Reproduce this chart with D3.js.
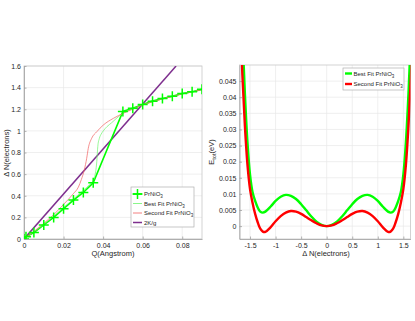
<!DOCTYPE html>
<html>
<head>
<meta charset="utf-8">
<title>PrNiO3 fits</title>
<script src="https://d3js.org/d3.v7.min.js"></script>
<style>
body { margin: 0; background: #fff; }
svg { font-family: "Liberation Sans", Arial, sans-serif; }
.grid line { stroke: #e8e8e8; stroke-width: 0.7; }
.axis path, .axis line { stroke: #a0a0a0; stroke-width: 0.8; }
.axis text { fill: #262626; font-size: 7px; }
.lbl { fill: #262626; font-size: 7.5px; }
.leg { fill: #262626; font-size: 6px; }
</style>
</head>
<body>
<svg width="415" height="321"></svg>
<script>
// ---- left panel: charge vs Q ----
var qData = [0, 0.001, 0.005, 0.01, 0.015, 0.02, 0.025, 0.03, 0.035, 0.05, 0.055, 0.06, 0.065, 0.07, 0.075, 0.08, 0.085, 0.09];
var nData = [0, 0.02, 0.06, 0.13, 0.20, 0.28, 0.36, 0.43, 0.52, 1.18, 1.21, 1.245, 1.275, 1.30, 1.32, 1.345, 1.362, 1.384];

var qBest = [0, 0.005, 0.01, 0.015, 0.02, 0.025, 0.03, 0.033, 0.035, 0.036, 0.0368, 0.0373, 0.0381, 0.039, 0.0401, 0.042, 0.0443, 0.047, 0.0502, 0.055, 0.06, 0.065, 0.07, 0.075, 0.08, 0.085, 0.09];
var nBest = [0, 0.065, 0.135, 0.21, 0.29, 0.37, 0.45, 0.5, 0.54, 0.6, 0.715, 0.854, 0.931, 0.97, 1.0, 1.04, 1.075, 1.12, 1.165, 1.205, 1.24, 1.27, 1.295, 1.318, 1.342, 1.36, 1.382];

var qSecond = [0, 0.005, 0.01, 0.015, 0.02, 0.025, 0.0275, 0.029, 0.0305, 0.0317, 0.0325, 0.0342, 0.0368, 0.0401, 0.0452, 0.0502, 0.055, 0.06, 0.065, 0.07, 0.075, 0.08, 0.085, 0.09];
var nSecond = [0, 0.07, 0.145, 0.225, 0.32, 0.42, 0.48, 0.55, 0.64, 0.746, 0.839, 0.931, 0.992, 1.054, 1.116, 1.163, 1.2, 1.24, 1.27, 1.295, 1.318, 1.342, 1.36, 1.382];

var qLine = [0, 0.0769];
var nLine = [0, 1.6];

var qTicks = [0, 0.02, 0.04, 0.06, 0.08];
var nTicks = [0, 0.2, 0.4, 0.6, 0.8, 1, 1.2, 1.4, 1.6];

// ---- right panel: total energy vs charge ----
var dN = [-1.7, -1.65, -1.6, -1.55, -1.5, -1.45, -1.4, -1.35, -1.3, -1.25, -1.2, -1.1, -1.0, -0.9, -0.8, -0.7, -0.6, -0.5, -0.4, -0.3, -0.2, -0.1, 0,
          0.1, 0.2, 0.3, 0.4, 0.5, 0.6, 0.7, 0.8, 0.9, 1.0, 1.1, 1.2, 1.25, 1.3, 1.35, 1.4, 1.45, 1.5, 1.55, 1.6, 1.65, 1.7];
var eBest = [0.085, 0.06, 0.041, 0.026, 0.016, 0.0105, 0.0078, 0.0058, 0.0045, 0.0042, 0.0045, 0.006, 0.0078, 0.0091, 0.0097, 0.0094, 0.0084, 0.0068, 0.0049, 0.003, 0.0014, 0.0004, 0,
             0.0004, 0.0014, 0.003, 0.0049, 0.0068, 0.0084, 0.0094, 0.0097, 0.0091, 0.0078, 0.006, 0.0045, 0.0042, 0.0045, 0.0058, 0.0078, 0.0105, 0.016, 0.026, 0.041, 0.06, 0.085];
var eSecond = [0.07, 0.047, 0.031, 0.019, 0.0115, 0.0072, 0.0038, 0.0012, -0.0008, -0.0017, -0.0018, -0.0004, 0.0015, 0.0031, 0.0042, 0.0047, 0.0045, 0.0038, 0.0028, 0.0018, 0.0009, 0.0002, 0,
               0.0002, 0.0009, 0.0018, 0.0028, 0.0038, 0.0045, 0.0047, 0.0042, 0.0031, 0.0015, -0.0004, -0.0018, -0.0017, -0.0008, 0.0012, 0.0038, 0.0072, 0.0115, 0.019, 0.031, 0.047, 0.07];

var dnTicks = [-1.5, -1, -0.5, 0, 0.5, 1, 1.5];
var eTicks = [0, 0.005, 0.01, 0.015, 0.02, 0.025, 0.03, 0.035, 0.04, 0.045];

var green = "#00ff00", red = "#ff0000", purple = "#7e2f8e";

var svg = d3.select("svg");

function zip(a, b) { return a.map(function(d, i) { return [d, b[i]]; }); }

function frame(g, x, y, xt, yt, id) {
  var x0 = x.range()[0], x1 = x.range()[1], y0 = y.range()[0], y1 = y.range()[1];
  var grid = g.append("g").attr("class", "grid");
  grid.selectAll("line.v").data(xt).enter().append("line")
    .attr("x1", x).attr("x2", x).attr("y1", y0).attr("y2", y1);
  grid.selectAll("line.h").data(yt).enter().append("line")
    .attr("y1", y).attr("y2", y).attr("x1", x0).attr("x2", x1);
  g.append("rect").attr("x", x0).attr("y", y1).attr("width", x1 - x0).attr("height", y0 - y1)
    .attr("fill", "none").attr("stroke", "#c8c8c8").attr("stroke-width", 0.8);
  g.append("g").attr("class", "axis").attr("transform", "translate(0," + y0 + ")")
    .call(d3.axisBottom(x).tickValues(xt).tickFormat(String).tickSizeInner(-2.5).tickSizeOuter(0).tickPadding(4));
  g.append("g").attr("class", "axis").attr("transform", "translate(" + x0 + ",0)")
    .call(d3.axisLeft(y).tickValues(yt).tickFormat(String).tickSizeInner(-2.5).tickSizeOuter(0).tickPadding(3));
  g.append("clipPath").attr("id", id).append("rect")
    .attr("x", x0).attr("y", y1).attr("width", x1 - x0).attr("height", y0 - y1);
  return g.append("g").attr("clip-path", "url(#" + id + ")");
}

// ---------- left ----------
var xL = d3.scaleLinear().domain([0, 0.09]).range([24, 202]);
var yL = d3.scaleLinear().domain([0, 1.6]).range([239, 66]);
var gL = svg.append("g");
var pL = frame(gL, xL, yL, qTicks, nTicks, "clipL");

var lineL = d3.line().x(function(d) { return xL(d[0]); }).y(function(d) { return yL(d[1]); });
var smoothL = d3.line().curve(d3.curveMonotoneX).x(function(d) { return xL(d[0]); }).y(function(d) { return yL(d[1]); });

pL.append("path").datum(zip(qLine, nLine)).attr("d", lineL)
  .attr("fill", "none").attr("stroke", purple).attr("stroke-width", 1.5);
pL.append("path").datum(zip(qData, nData)).attr("d", lineL)
  .attr("fill", "none").attr("stroke", green).attr("stroke-width", 1.6);
pL.append("path").datum(zip(qBest, nBest)).attr("d", smoothL)
  .attr("fill", "none").attr("stroke", "#6cf56c").attr("stroke-width", 0.7);
pL.append("path").datum(zip(qSecond, nSecond)).attr("d", smoothL)
  .attr("fill", "none").attr("stroke", "#f06060").attr("stroke-width", 0.7);

var plus = d3.symbol().type(d3.symbolCross);
function cross(sel, cx, cy) {
  sel.append("path").attr("d", "M" + (cx - 5) + "," + cy + "H" + (cx + 5) + "M" + cx + "," + (cy - 5) + "V" + (cy + 5))
    .attr("stroke", green).attr("stroke-width", 1.5).attr("fill", "none");
}
pL.selectAll("g.mk").data(zip(qData, nData)).enter().append("g").attr("class", "mk")
  .each(function(d) { cross(d3.select(this), xL(d[0]), yL(d[1])); });

gL.append("text").attr("class", "lbl").attr("text-anchor", "middle")
  .attr("x", 113).attr("y", 256).text("Q(Angstrom)");
gL.append("text").attr("class", "lbl").attr("text-anchor", "middle")
  .attr("transform", "translate(9,153) rotate(-90)").text("\u0394 N(electrons)");

// legend left
var legL = gL.append("g");
legL.append("rect").attr("x", 131).attr("y", 187).attr("width", 63).attr("height", 40)
  .attr("fill", "#fff").attr("stroke", "#b0b0b0").attr("stroke-width", 0.7);
var legItemsL = [
  { name: "PrNiO", sub: "3", color: green, w: 1.6, mark: true },
  { name: "Best Fit PrNiO", sub: "3", color: "#6cf56c", w: 0.8 },
  { name: "Second Fit PrNiO", sub: "3", color: "#f06060", w: 0.8 },
  { name: "2K/g", sub: "", color: purple, w: 1.5 }
];
legItemsL.forEach(function(d, i) {
  var cy = 194 + i * 9.5;
  legL.append("line").attr("x1", 133).attr("x2", 142).attr("y1", cy).attr("y2", cy)
    .attr("stroke", d.color).attr("stroke-width", d.w);
  if (d.mark) cross(legL, 137.5, cy);
  var t = legL.append("text").attr("class", "leg").attr("x", 144).attr("y", cy + 2).text(d.name);
  if (d.sub) t.append("tspan").attr("dy", 2).attr("font-size", "4.5px").text(d.sub);
});

// ---------- right ----------
var xR = d3.scaleLinear().domain([-1.706, 1.64]).range([239.5, 410.5]);
var yR = d3.scaleLinear().domain([-0.004, 0.05]).range([239, 65]);
var gR = svg.append("g");
var pR = frame(gR, xR, yR, dnTicks, eTicks, "clipR");

var lineR = d3.line().curve(d3.curveCatmullRom).x(function(d) { return xR(d[0]); }).y(function(d) { return yR(d[1]); });
pR.append("path").datum(zip(dN, eBest)).attr("d", lineR)
  .attr("fill", "none").attr("stroke", green).attr("stroke-width", 2.4);
pR.append("path").datum(zip(dN, eSecond)).attr("d", lineR)
  .attr("fill", "none").attr("stroke", red).attr("stroke-width", 2.4);

gR.append("text").attr("class", "lbl").attr("text-anchor", "middle")
  .attr("x", 326).attr("y", 256).text("\u0394 N(electrons)");
var yl = gR.append("text").attr("class", "lbl").attr("text-anchor", "middle")
  .attr("transform", "translate(214,152) rotate(-90)").text("E");
yl.append("tspan").attr("dy", 2).attr("font-size", "5.5px").text("tot");
yl.append("tspan").attr("dy", -2).text("(eV)");

var legR = gR.append("g");
legR.append("rect").attr("x", 343).attr("y", 68).attr("width", 61).attr("height", 22)
  .attr("fill", "#fff").attr("stroke", "#b0b0b0").attr("stroke-width", 0.7);
[{ name: "Best Fit PrNiO", color: green }, { name: "Second Fit PrNiO", color: red }].forEach(function(d, i) {
  var cy = 73.5 + i * 10.5;
  legR.append("line").attr("x1", 345).attr("x2", 352).attr("y1", cy).attr("y2", cy)
    .attr("stroke", d.color).attr("stroke-width", 2.4);
  var t = legR.append("text").attr("class", "leg").attr("x", 353.5).attr("y", cy + 2).text(d.name);
  t.append("tspan").attr("dy", 2).attr("font-size", "4.5px").text("3");
});
</script>
</body>
</html>
